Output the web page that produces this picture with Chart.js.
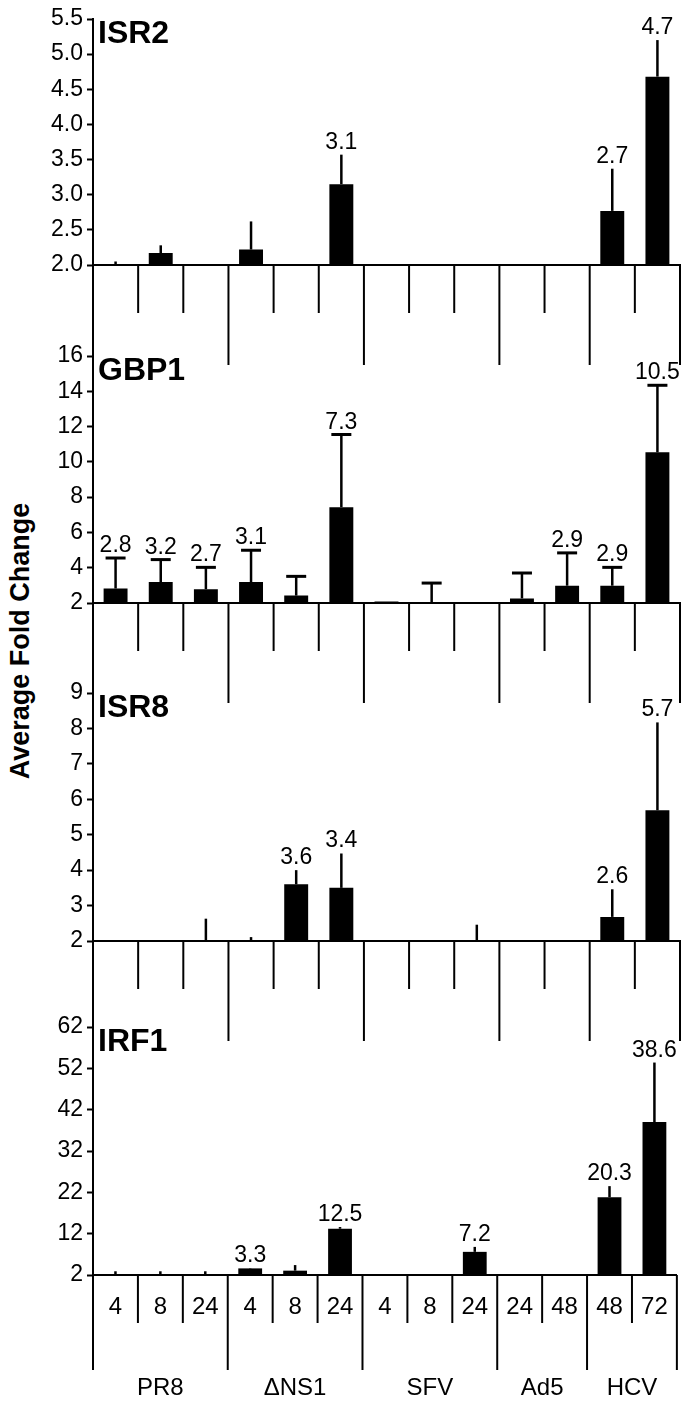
<!DOCTYPE html>
<html>
<head>
<meta charset="utf-8">
<script src="https://cdn.jsdelivr.net/npm/chart.js@4.4.1/dist/chart.umd.min.js"></script>
<style>
  html, body { margin: 0; padding: 0; background: #fff; }
  #wrap { position: relative; width: 686px; height: 1403px; overflow: hidden; }
  #wrap canvas { position: absolute; left: 0; }
  #ytitle {
    position: absolute; left: 20px; top: 641px;
    transform: translate(-50%, -50%) rotate(-90deg);
    font: bold 27px "Liberation Sans", Arial, sans-serif;
    white-space: nowrap; color: #000;
  }
</style>
</head>
<body>
<div id="wrap">
  <div id="ytitle">Average Fold Change</div>
</div>
<script>
// categorias (horas pós-infecção) e grupos de vírus
const timePoints = ["4", "8", "24", "4", "8", "24", "4", "8", "24", "24", "48", "48", "72"];
const viruses = ["PR8", "ΔNS1", "SFV", "Ad5", "HCV"];
const virusSizes = [3, 3, 3, 2, 2];

// ISR2
const isr2Mean = [2.0, 2.17, 2.0, 2.22, 2.0, 3.15, 2.0, 2.0, 2.0, 2.0, 2.0, 2.77, 4.68];
const isr2Upper = [2.05, 2.28, null, 2.62, null, 3.57, null, null, null, null, null, 3.37, 5.2];
const isr2Labels = [null, null, null, null, null, "3.1", null, null, null, null, null, "2.7", "4.7"];
const isr2Ticks = [2.0, 2.5, 3.0, 3.5, 4.0, 4.5, 5.0, 5.5];
const isr2TickLabels = ["2.0", "2.5", "3.0", "3.5", "4.0", "4.5", "5.0", "5.5"];

// GBP1
const gbp1Mean = [2.82, 3.19, 2.78, 3.19, 2.42, 7.43, 2.08, 2.0, 2.0, 2.26, 2.98, 2.98, 10.54];
const gbp1Upper = [4.55, 4.46, 4.02, 4.99, 3.51, 11.55, null, 3.13, null, 3.7, 4.84, 4.02, 14.34];
const gbp1Labels = ["2.8", "3.2", "2.7", "3.1", null, "7.3", null, null, null, null, "2.9", "2.9", "10.5"];
const gbp1Ticks = [2, 4, 6, 8, 10, 12, 14, 16];
const gbp1TickLabels = ["2", "4", "6", "8", "10", "12", "14", "16"];

// ISR8
const isr8Mean = [2.0, 2.0, 2.0, 2.0, 3.6, 3.5, 2.0, 2.0, 2.0, 2.0, 2.0, 2.68, 5.69];
const isr8Upper = [null, null, 2.63, 2.11, 4.0, 4.47, null, null, 2.46, null, null, 3.46, 8.17];
const isr8Labels = [null, null, null, null, "3.6", "3.4", null, null, null, null, null, "2.6", "5.7"];
const isr8Ticks = [2, 3, 4, 5, 6, 7, 8, 9];
const isr8TickLabels = ["2", "3", "4", "5", "6", "7", "8", "9"];

// IRF1
const irf1Mean = [2.0, 2.0, 2.0, 3.6, 3.05, 13.2, 2.0, 2.0, 7.6, 2.0, 2.0, 20.8, 39.0];
const irf1Upper = [2.9, 2.9, 2.9, 3.7, 4.4, 13.6, null, null, 8.8, null, null, 23.5, 53.4];
const irf1Labels = [null, null, null, "3.3", null, "12.5", null, null, "7.2", null, null, "20.3", "38.6"];
const irf1Ticks = [2, 12, 22, 32, 42, 52, 62];
const irf1TickLabels = ["2", "12", "22", "32", "42", "52", "62"];

const FONTE = '"Liberation Sans", Arial, sans-serif';

// painéis empilhados: y0 = topo da área do gráfico, y1 = linha de base (px na página)
const paineis = [
  { nome: "ISR2", media: isr2Mean, topo: isr2Upper, rotulos: isr2Labels, ticks: isr2Ticks, tickLabels: isr2TickLabels, caps: false, y0: 19, y1: 265 },
  { nome: "GBP1", media: gbp1Mean, topo: gbp1Upper, rotulos: gbp1Labels, ticks: gbp1Ticks, tickLabels: gbp1TickLabels, caps: true, y0: 356, y1: 603 },
  { nome: "ISR8", media: isr8Mean, topo: isr8Upper, rotulos: isr8Labels, ticks: isr8Ticks, tickLabels: isr8TickLabels, caps: false, y0: 693, y1: 941 },
  { nome: "IRF1", media: irf1Mean, topo: irf1Upper, rotulos: irf1Labels, ticks: irf1Ticks, tickLabels: irf1TickLabels, caps: false, y0: 1027, y1: 1275 },
];

// índices onde começa/termina cada grupo de vírus
const limitesGrupo = [0];
virusSizes.forEach((n) => limitesGrupo.push(limitesGrupo[limitesGrupo.length - 1] + n));

function linha(ctx, x1, y1, x2, y2) {
  ctx.beginPath();
  ctx.moveTo(x1, y1);
  ctx.lineTo(x2, y2);
  ctx.stroke();
}

// separadores, barras de erro, rótulos e título de cada painel
function pluginPainel(p, ultimo) {
  return {
    id: "extras" + p.nome,
    afterDraw(chart) {
      const { ctx, chartArea, scales } = chart;
      const x = scales.x;
      const y = scales.y;
      const n = timePoints.length;
      const meta = chart.getDatasetMeta(0);
      ctx.save();
      ctx.strokeStyle = "#000";
      ctx.fillStyle = "#000";

      // linhas verticais abaixo da base
      ctx.lineWidth = 2;
      const bordas = [];
      for (let i = 0; i <= n; i++) {
        let xp;
        if (i === 0) xp = chartArea.left;
        else if (i === n) xp = chartArea.right;
        else xp = (x.getPixelForValue(i - 1) + x.getPixelForValue(i)) / 2;
        bordas.push(xp);
        const longo = limitesGrupo.includes(i);
        const comp = longo ? (ultimo ? 95 : 100) : 48;
        linha(ctx, xp, chartArea.bottom, xp, chartArea.bottom + comp);
      }

      // barras de erro
      meta.data.forEach((bar, i) => {
        const sup = p.topo[i];
        if (sup == null) return;
        const yTop = y.getPixelForValue(sup);
        const yBase = y.getPixelForValue(p.media[i]);
        ctx.lineWidth = 2.5;
        linha(ctx, bar.x, yBase, bar.x, yTop);
        if (p.caps) {
          ctx.lineWidth = 3;
          linha(ctx, bar.x - 10, yTop, bar.x + 10, yTop);
        }
      });

      // valores acima das barras
      ctx.font = "23px " + FONTE;
      ctx.textAlign = "center";
      ctx.textBaseline = "alphabetic";
      p.rotulos.forEach((r, i) => {
        if (!r) return;
        const v = p.topo[i] ?? p.media[i];
        ctx.fillText(r, meta.data[i].x, y.getPixelForValue(v) - 6);
      });

      // nome do gene
      ctx.font = "bold 32px " + FONTE;
      ctx.textAlign = "left";
      ctx.textBaseline = "top";
      ctx.fillText(p.nome, chartArea.left + 5, chartArea.top - 1);

      // nomes dos vírus no último painel
      if (ultimo) {
        ctx.font = "24px " + FONTE;
        ctx.textAlign = "center";
        ctx.textBaseline = "alphabetic";
        viruses.forEach((v, g) => {
          const cx = (bordas[limitesGrupo[g]] + bordas[limitesGrupo[g + 1]]) / 2;
          ctx.fillText(v, cx, chartArea.bottom + 120);
        });
      }
      ctx.restore();
    },
  };
}

function criarPainel(p, idx) {
  const ultimo = idx === paineis.length - 1;
  const wrap = document.getElementById("wrap");
  const canvas = document.createElement("canvas");
  const topoCanvas = p.y0 - 19;
  const altura = ultimo ? 1403 - topoCanvas : 370;
  const plotH = p.y1 - p.y0;
  canvas.width = 686;
  canvas.height = altura;
  canvas.style.top = topoCanvas + "px";
  canvas.style.width = "686px";
  canvas.style.height = altura + "px";
  wrap.appendChild(canvas);

  new Chart(canvas.getContext("2d"), {
    type: "bar",
    data: {
      labels: timePoints,
      datasets: [
        {
          data: p.media,
          backgroundColor: "#000",
          borderWidth: 0,
          barPercentage: 0.53,
          categoryPercentage: 1,
        },
      ],
    },
    options: {
      responsive: false,
      animation: false,
      devicePixelRatio: 1,
      layout: { padding: { top: 19, right: 6, left: 0, bottom: 0 } },
      plugins: { legend: { display: false }, tooltip: { enabled: false } },
      scales: {
        x: {
          grid: { display: false, drawTicks: false },
          border: { display: true, color: "#000", width: 2 },
          ticks: {
            display: ultimo,
            color: "#000",
            font: { family: FONTE, size: 24 },
            padding: 18,
            maxRotation: 0,
            autoSkip: false,
          },
          afterFit: (s) => {
            s.height = altura - 19 - plotH;
          },
        },
        y: {
          min: p.ticks[0],
          max: p.ticks[p.ticks.length - 1],
          afterBuildTicks: (s) => {
            s.ticks = p.ticks.map((v) => ({ value: v }));
          },
          grid: { drawOnChartArea: false, drawTicks: true, tickLength: 6, tickWidth: 2, tickColor: "#000" },
          border: { color: "#000", width: 2 },
          ticks: {
            color: "#000",
            font: { family: FONTE, size: 23 },
            padding: 4,
            callback: (v, i) => p.tickLabels[i],
          },
          afterFit: (s) => {
            s.width = 93;
          },
        },
      },
    },
    plugins: [pluginPainel(p, ultimo)],
  });
}

paineis.forEach((p, i) => criarPainel(p, i));
</script>
</body>
</html>
